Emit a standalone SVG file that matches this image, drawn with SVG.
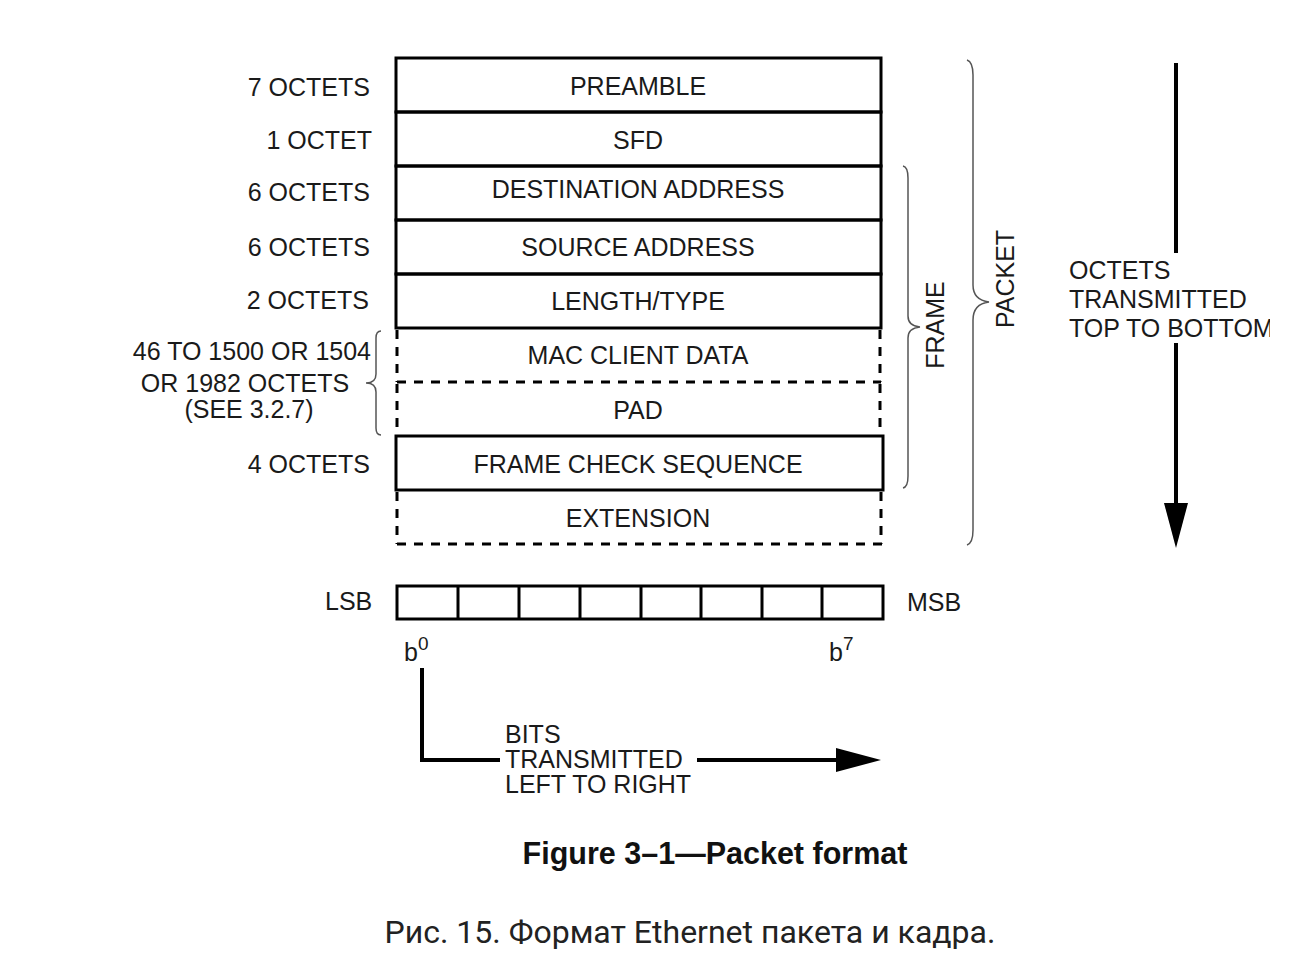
<svg xmlns="http://www.w3.org/2000/svg" width="1292" height="972" viewBox="0 0 1292 972">
<style>
text{font-family:"Liberation Sans",Arial,sans-serif;font-size:25px;fill:#1a1a1a}
.c{text-anchor:middle}
.r{text-anchor:end}
.box{fill:none;stroke:#000;stroke-width:3}
.sol{stroke:#000;stroke-width:3;fill:none}
.dash{stroke:#000;stroke-width:3;fill:none;stroke-dasharray:9 8}
.brace{fill:none;stroke:#555;stroke-width:1.5}
.arr{stroke:#000;stroke-width:4;fill:none}
</style>
<defs>
<clipPath id="clipR"><rect x="0" y="0" width="1270" height="972"/></clipPath>
</defs>
<rect width="1292" height="972" fill="#fff"/>
<g id="fields">
<g id="preamble"><rect class="box" x="396" y="58" width="485" height="54"/><text class="c" x="638" y="95">PREAMBLE</text></g>
<g id="sfd"><rect class="box" x="396" y="112" width="485" height="54"/><text class="c" x="638" y="149">SFD</text></g>
<g id="dest"><rect class="box" x="396" y="166" width="485" height="54"/><text class="c" x="638" y="198">DESTINATION ADDRESS</text></g>
<g id="src"><rect class="box" x="396" y="220" width="485" height="54"/><text class="c" x="638" y="256">SOURCE ADDRESS</text></g>
<g id="lentype"><rect class="box" x="396" y="274" width="485" height="54"/><text class="c" x="638" y="310">LENGTH/TYPE</text></g>
<g id="macdata"><path class="dash" d="M397 330 V382 M880 330 V382"/><path class="dash" d="M397 382 H881"/><text class="c" x="638" y="364">MAC CLIENT DATA</text></g>
<g id="pad"><path class="dash" d="M397 384 V436 M880 384 V436"/><text class="c" x="638" y="419">PAD</text></g>
<g id="fcs"><rect class="box" x="396" y="436" width="487" height="54"/><text class="c" x="638" y="473">FRAME CHECK SEQUENCE</text></g>
<g id="extension"><path class="dash" d="M397 492 V544 M881 492 V544"/><path class="dash" d="M397 544 H883"/><text class="c" x="638" y="527">EXTENSION</text></g>
</g>
<g id="sizes">
<text class="r" x="370" y="96">7 OCTETS</text>
<text class="r" x="372" y="149">1 OCTET</text>
<text class="r" x="370" y="201">6 OCTETS</text>
<text class="r" x="370" y="256">6 OCTETS</text>
<text class="r" x="369" y="309">2 OCTETS</text>
<text class="r" x="371" y="360">46 TO 1500 OR 1504</text>
<text class="c" x="245" y="392">OR 1982 OCTETS</text>
<text class="c" x="249" y="418">(SEE 3.2.7)</text>
<text class="r" x="370" y="473">4 OCTETS</text>
<path class="brace" d="M381 331 Q376 331 376 338 V374 Q376 383 366 383 Q376 383 376 392 V428 Q376 435 381 435"/>
</g>
<g id="frame-brace">
<path class="brace" d="M903 166 Q908 167 908 178 V316 Q908 326 920 327 Q908 328 908 338 V476 Q908 487 903 488"/>
<text class="c" transform="translate(944 325) rotate(-90)">FRAME</text>
</g>
<g id="packet-brace">
<path class="brace" d="M967 60 Q973 62 973 75 V285 Q973 300 989 302 Q973 304 973 320 V530 Q973 543 967 545"/>
<text class="c" transform="translate(1014 279) rotate(-90)">PACKET</text>
</g>
<g id="octet-order">
<g clip-path="url(#clipR)">
<text x="1069" y="279">OCTETS</text>
<text x="1069" y="308">TRANSMITTED</text>
<text x="1069" y="337">TOP TO BOTTOM</text>
</g>
</g>
<g id="bits">
<rect class="box" x="397" y="586" width="486" height="33"/>
<path class="sol" d="M458 586V619M519 586V619M580 586V619M641 586V619M701 586V619M762 586V619M822 586V619"/>
<text x="325" y="610">LSB</text>
<text x="907" y="611">MSB</text>
<text x="404" y="661">b<tspan font-size="19" dy="-11">0</tspan></text>
<text x="829" y="661">b<tspan font-size="19" dy="-11">7</tspan></text>
</g>
<g id="bit-order">
<text x="505" y="743">BITS</text>
<text x="505" y="768">TRANSMITTED</text>
<text x="505" y="793">LEFT TO RIGHT</text>
</g>
<g id="connectors">
<path class="arr" d="M1176 63 V253 M1176 343 V508"/>
<polygon points="1164,503 1188,503 1176,548" fill="#000"/>
<path class="arr" d="M422 668 V760 H500 M697 760 H840"/>
<polygon points="836,748 836,772 881,760" fill="#000"/>
</g>
<g id="captions">
<text class="c" x="715" y="864" style="font-weight:bold;font-size:30.5px;fill:#111">Figure 3–1—Packet format</text>
<text class="c" x="690" y="943" style="font-family:Roboto,'Noto Sans',sans-serif;font-size:32px;fill:#222">Рис. 15. Формат Ethernet пакета и кадра.</text>
</g>
</svg>
